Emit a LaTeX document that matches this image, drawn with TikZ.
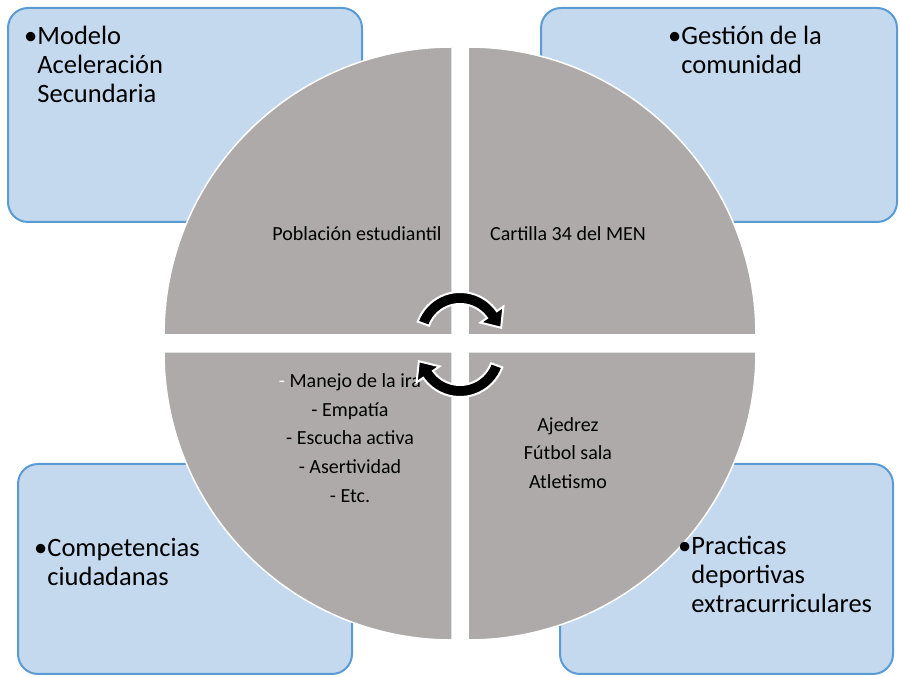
\documentclass[tikz,border=0pt]{standalone}
\usepackage{fontspec}
\setmainfont{Carlito}
\usetikzlibrary{calc}
\definecolor{boxfill}{RGB}{196,217,238}
\definecolor{boxline}{RGB}{91,155,213}
\definecolor{slice}{RGB}{174,170,170}

\begin{document}
\begin{tikzpicture}[x=1pt, y=1pt]
            \tikzset{box/.style={draw=boxline, fill=boxfill, line width=2pt, rounded corners=20pt, inner sep=0pt},
                     quarter/.style={fill=slice, draw=white, line width=1.5pt},
                     boxtext/.style={anchor=base west, align=left, inner sep=0pt, font=\fontsize{26.5}{29}\selectfont},
                     slicetext/.style={align=center, inner sep=0pt, font=\fontsize{20}{28.7}\selectfont},
                     cycarrow/.style={fill=black, draw=white, line width=2pt}}
            \useasboundingbox (0,0) rectangle (900,677);
            % the four boxes
            \node[box, minimum width=354pt, minimum height=214pt] (modelo) at (185,562) {};
            \node[box, minimum width=356pt, minimum height=214pt] (gestion) at (719,562) {};
            \node[box, minimum width=334pt, minimum height=210pt] (competencias) at (185,108) {};
            \node[box, minimum width=333pt, minimum height=210pt] (practicas) at (726.5,108) {};
            % the circle, cut in four
            \coordinate (tl) at (452,342);
            \coordinate (tr) at (468,342);
            \coordinate (bl) at (452,325);
            \coordinate (br) at (468,325);
            \draw[quarter] (tl) -- ++(180:288) arc[start angle=180, end angle=90, radius=288] -- cycle;
            \draw[quarter] (tr) -- ++(90:288) arc[start angle=90, end angle=0, radius=288] -- cycle;
            \draw[quarter] (bl) -- ++(270:288) arc[start angle=270, end angle=180, radius=288] -- cycle;
            \draw[quarter] (br) -- ++(0:288) arc[start angle=0, end angle=-90, radius=288] -- cycle;
            \node[slicetext] (poblacion) at (357,443) {Población estudiantil};
            \node[slicetext] (cartilla) at (568,443) {Cartilla 34 del MEN};
            \node[slicetext] (habilidades) at (350,239) {\textcolor{white}{-} Manejo de la ira\\- Empatía\\- Escucha activa\\- Asertividad\\- Etc.};
            \node[slicetext] (deportes) at (568,224) {Ajedrez\\Fútbol sala\\Atletismo};
            % the two turning arrows
            \coordinate (topc) at (460,340);
            \coordinate (botc) at (460,325);
            \filldraw[cycarrow] ($(topc)+(160:45)$) arc[start angle=160, end angle=35, radius=45]
                -- ($(topc)+(35:53)$) -- ($(topc)+(35:39)+(-55:16)$) -- ($(topc)+(35:25)$)
                -- ($(topc)+(35:33)$) arc[start angle=35, end angle=160, radius=33] -- cycle;
            \filldraw[cycarrow] ($(botc)+(-20:45)$) arc[start angle=-20, end angle=-145, radius=45]
                -- ($(botc)+(-145:53)$) -- ($(botc)+(-145:39)+(125:16)$) -- ($(botc)+(-145:25)$)
                -- ($(botc)+(-145:33)$) arc[start angle=-145, end angle=-20, radius=33] -- cycle;
            % box texts (base = last line)
            \node[boxtext] (modelotxt) at (24,574) {•Modelo\\\phantom{•}Aceleración\\\phantom{•}Secundaria};
            \node[boxtext] (gestiontxt) at (668,603) {•Gestión de la\\\phantom{•}comunidad};
            \node[boxtext] (competenciastxt) at (34,91) {•Competencias\\\phantom{•}ciudadanas};
            \node[boxtext] (practicastxt) at (678,64) {•Practicas\\\phantom{•}deportivas\\\phantom{•}extracurriculares};
\end{tikzpicture}
\end{document}
